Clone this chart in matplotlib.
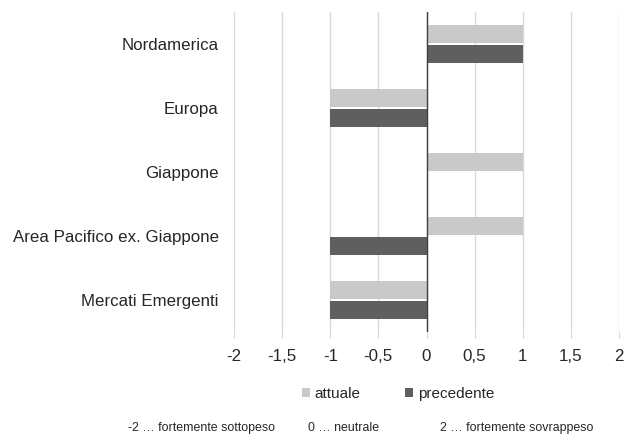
import numpy as np
import matplotlib
matplotlib.use("Agg")
import matplotlib.pyplot as plt
from matplotlib.ticker import FuncFormatter

plt.rcParams['font.family'] = ['Liberation Sans', 'DejaVu Sans']

categories = ["Nordamerica", "Europa", "Giappone",
              "Area Pacifico ex. Giappone", "Mercati Emergenti"]
attuale = [1, -1, 1, 1, -1]
precedente = [1, -1, 0, -1, -1]
series_names = ["attuale", "precedente"]
ticks = [-2, -1.5, -1, -0.5, 0, 0.5, 1, 1.5, 2]
footer = ["-2 \u2026 fortemente sottopeso", "0 \u2026 neutrale",
          "2 \u2026 fortemente sovrappeso"]

light = "#c9c9c9"
dark = "#5f5f5f"
txt_col = "#262626"

fig = plt.figure(figsize=(6.35, 4.37), dpi=100)
ax = fig.add_axes([234 / 635, 1 - 332 / 437, 385 / 635, 320 / 437])

y = np.arange(len(categories))
h = 0.27
ax.barh(y - h / 2 - 0.02, attuale, height=h, color=light, label=series_names[0], zorder=2)
ax.barh(y + h / 2 + 0.02, precedente, height=h, color=dark, label=series_names[1], zorder=2)

ax.set_xlim(-2, 2)
ax.set_ylim(len(categories) - 0.5, -0.5)
ax.set_xticks(ticks)
ax.xaxis.set_major_formatter(FuncFormatter(lambda v, p: f"{v:g}".replace(".", ",")))
ax.set_yticks(y)
ax.set_yticklabels(categories)
ax.grid(axis='x', color="#d9d9d9", linewidth=1, zorder=0)
ax.axvline(0, color="#404040", linewidth=1, zorder=3)
for s in ax.spines.values():
    s.set_visible(False)
ax.tick_params(axis='y', length=0, pad=11, labelsize=12.2, labelcolor=txt_col)
ax.tick_params(axis='x', length=4, color="#d9d9d9", pad=8, labelsize=12.2,
               labelcolor=txt_col)

leg = fig.legend(loc='center', bbox_to_anchor=(398 / 635, 1 - 394 / 437), ncol=2,
                 frameon=False, fontsize=11, handlelength=0.55, handleheight=0.55,
                 columnspacing=2.9, handletextpad=0.3)
for t in leg.get_texts():
    t.set_color(txt_col)

xs = [128, 308, 440]
for x0, txt in zip(xs, footer):
    fig.text(x0 / 635, 1 - 428 / 437, txt, fontsize=8.9, color=txt_col, va='center')

fig.savefig("out.png", dpi=100)
